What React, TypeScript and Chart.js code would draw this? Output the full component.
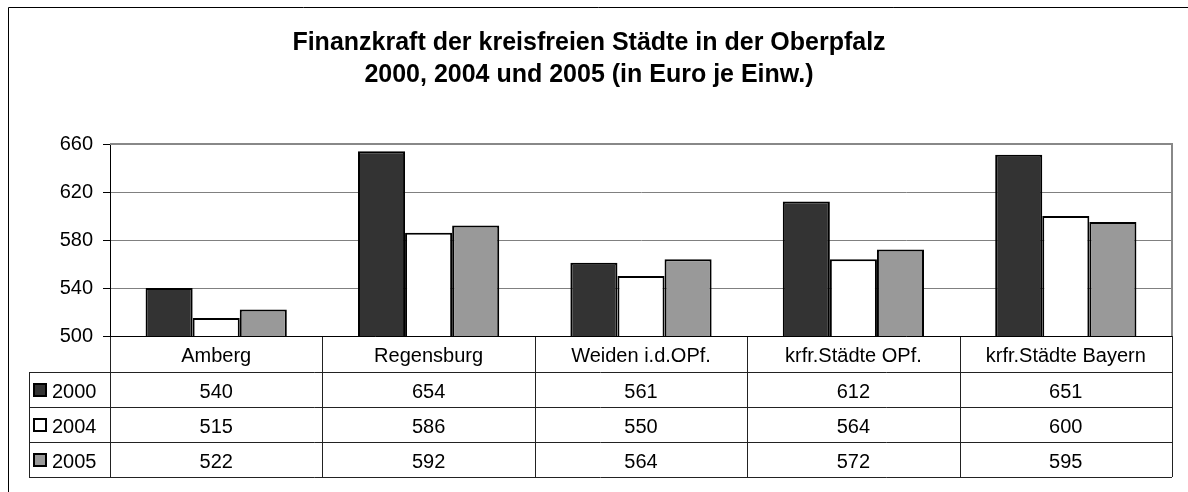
import React, { useEffect, useRef } from "react";
import { Chart, registerables } from "chart.js";

Chart.register(...registerables);

const titleLines = [
  "Finanzkraft der kreisfreien Städte in der Oberpfalz",
  "2000, 2004 und 2005 (in Euro je Einw.)",
];
const categories = [
  "Amberg",
  "Regensburg",
  "Weiden i.d.OPf.",
  "krfr.Städte OPf.",
  "krfr.Städte Bayern",
];
const seriesLabels = ["2000", "2004", "2005"];
const values2000 = [540, 654, 561, 612, 651];
const values2004 = [515, 586, 550, 564, 600];
const values2005 = [522, 592, 564, 572, 595];
const seriesColors = ["#333333", "#ffffff", "#999999"];
const yTicks = [500, 540, 580, 620, 660];

const FONT = "'Liberation Sans', Arial, sans-serif";

const tablePlugin = {
  id: "tablePlugin",
  afterDraw(chart: any) {
    const ctx = chart.ctx as CanvasRenderingContext2D;
    const area = chart.chartArea;
    const xs = chart.scales.x;
    const n = categories.length;
    const colW = area.width / n;
    const rowH = 35;
    const headerTop = area.bottom;
    const headerBottom = headerTop + 36;
    const tableLeft = 29;
    ctx.save();
    // outer frame
    ctx.strokeStyle = "#000";
    ctx.lineWidth = 1;
    ctx.beginPath();
    ctx.moveTo(8.5, 520);
    ctx.lineTo(8.5, 7.5);
    ctx.lineTo(1200, 7.5);
    ctx.stroke();
    // title
    ctx.fillStyle = "#000";
    ctx.font = `bold 25px ${FONT}`;
    ctx.textAlign = "center";
    ctx.textBaseline = "alphabetic";
    ctx.fillText(titleLines[0], 589, 50);
    ctx.fillText(titleLines[1], 589, 82);
    // plot border right/top
    ctx.strokeStyle = "#888";
    ctx.lineWidth = 2;
    ctx.beginPath();
    ctx.moveTo(area.left, area.top);
    ctx.lineTo(area.right, area.top);
    ctx.lineTo(area.right, area.bottom);
    ctx.stroke();
    // table lines
    ctx.strokeStyle = "#222";
    ctx.lineWidth = 1;
    const bottom = headerBottom + rowH * 3;
    ctx.beginPath();
    for (let i = 0; i <= 3; i++) {
      const y = Math.round(headerBottom + rowH * i) + 0.5;
      ctx.moveTo(tableLeft, y);
      ctx.lineTo(area.right, y);
    }
    ctx.moveTo(tableLeft + 0.5, headerBottom);
    ctx.lineTo(tableLeft + 0.5, bottom);
    for (let i = 0; i <= n; i++) {
      const x = Math.round(xs.getPixelForValue(i) - colW / 2) + 0.5;
      ctx.moveTo(x, headerTop);
      ctx.lineTo(x, bottom);
    }
    ctx.stroke();
    ctx.strokeStyle = "#000";
    ctx.beginPath();
    ctx.moveTo(area.left, headerTop + 0.5);
    ctx.lineTo(area.right, headerTop + 0.5);
    ctx.stroke();
    // header text
    ctx.font = `20px ${FONT}`;
    ctx.fillStyle = "#000";
    ctx.textAlign = "center";
    ctx.textBaseline = "alphabetic";
    categories.forEach((c, i) => {
      ctx.fillText(c, xs.getPixelForValue(i), headerTop + 26);
    });
    // rows
    chart.data.datasets.forEach((ds: any, r: number) => {
      const top = headerBottom + rowH * r;
      const base = top + 26;
      // legend key
      ctx.fillStyle = seriesColors[r];
      ctx.fillRect(34, top + 12, 12, 12);
      ctx.strokeStyle = "#000";
      ctx.lineWidth = 2;
      ctx.strokeRect(34, top + 12, 12, 12);
      ctx.fillStyle = "#000";
      ctx.textAlign = "left";
      ctx.fillText(seriesLabels[r], 52, base);
      ctx.textAlign = "center";
      ds.data.forEach((v: number, i: number) => {
        ctx.fillText(String(v), xs.getPixelForValue(i), base);
      });
    });
    ctx.restore();
  },
};

export default function App() {
  const ref = useRef<HTMLCanvasElement>(null);
  useEffect(() => {
    if (!ref.current) return;
    const chart = new Chart(ref.current, {
      type: "bar",
      data: {
        labels: categories,
        datasets: [values2000, values2004, values2005].map((d, i) => ({
          label: seriesLabels[i],
          data: d,
          backgroundColor: seriesColors[i],
          borderColor: "#000",
          borderWidth: 2,
          barPercentage: 1,
          categoryPercentage: 0.665,
        })),
      },
      options: {
        responsive: false,
        animation: false,
        devicePixelRatio: 1,
        layout: { padding: { left: 0, right: 16, top: 144, bottom: 156 } },
        plugins: { legend: { display: false }, title: { display: false }, tooltip: { enabled: false } },
        scales: {
          x: { display: false },
          y: {
            min: 500,
            max: 660,
            afterFit: (s: any) => {
              s.width = 110;
            },
            afterBuildTicks: (s: any) => {
              s.ticks = yTicks.map((v) => ({ value: v }));
            },
            ticks: {
              color: "#000",
              font: { family: FONT, size: 20 },
              padding: 10,
            },
            grid: {
              color: "#808080",
              tickColor: "#000",
              tickLength: 7,
              lineWidth: 1,
            },
            border: { color: "#000", width: 1 },
          },
        },
      },
      plugins: [tablePlugin],
    });
    return () => chart.destroy();
  }, []);
  return (
    <div style={{ position: "fixed", left: 0, top: 0, width: 1188, height: 492, background: "#fff" }}>
      <canvas ref={ref} width={1188} height={492} style={{ display: "block" }} />
    </div>
  );
}
